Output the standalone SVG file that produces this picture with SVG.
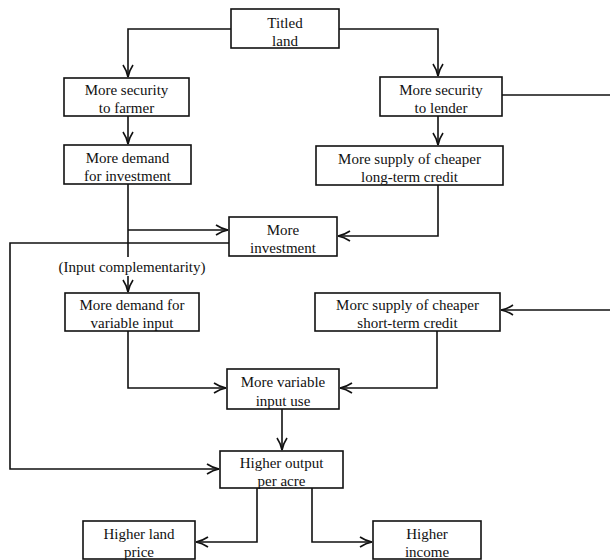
<svg xmlns="http://www.w3.org/2000/svg" width="610" height="560" viewBox="0 0 610 560">
<style>
.box{fill:#fff;stroke:#111;stroke-width:1.6}
.t{font-family:"Liberation Serif","Times New Roman",serif;font-size:15px;fill:#111;text-anchor:middle}
.c{fill:none;stroke:#111;stroke-width:1.6}
</style>
<defs>
<marker id="a" markerUnits="userSpaceOnUse" markerWidth="16" markerHeight="14" viewBox="-13 -7 16 14" refX="0" refY="0" orient="auto">
<path d="M-12,-5 Q-6,-1 0,0 Q-6,1 -12,5" fill="none" stroke="#111" stroke-width="1.6"/>
</marker>
</defs>
<g id="connectors">
<path class="c" d="M231,29 H128 V77" marker-end="url(#a)"/>
<path class="c" d="M339,29 H438 V76" marker-end="url(#a)"/>
<path class="c" d="M502,95 H610"/>
<path class="c" d="M128,116 V144" marker-end="url(#a)"/>
<path class="c" d="M438,116 V145" marker-end="url(#a)"/>
<path class="c" d="M128,184 V257"/>
<path class="c" d="M128,230 H228" marker-end="url(#a)"/>
<path class="c" d="M438,185 V236 H338" marker-end="url(#a)"/>
<path class="c" d="M229,243 H10 V469 H219" marker-end="url(#a)"/>
<path class="c" d="M128,276 V292" marker-end="url(#a)"/>
<path class="c" d="M610,310 H501" marker-end="url(#a)"/>
<path class="c" d="M128,331 V388 H226" marker-end="url(#a)"/>
<path class="c" d="M437,331 V388 H340" marker-end="url(#a)"/>
<path class="c" d="M282,409 V450" marker-end="url(#a)"/>
<path class="c" d="M257,488 V542 H196" marker-end="url(#a)"/>
<path class="c" d="M312,488 V542 H372" marker-end="url(#a)"/>
</g>
<g id="titled">
<rect class="box" x="231" y="9" width="108" height="39"/>
<text class="t" x="285" y="28">Titled</text>
<text class="t" x="285" y="46">land</text>
</g>
<g id="sec-farmer">
<rect class="box" x="64" y="78" width="125" height="38"/>
<text class="t" x="126.5" y="95">More security</text>
<text class="t" x="126.5" y="113">to farmer</text>
</g>
<g id="sec-lender">
<rect class="box" x="380" y="77" width="122" height="39"/>
<text class="t" x="441" y="95">More security</text>
<text class="t" x="441" y="113">to lender</text>
</g>
<g id="demand-inv">
<rect class="box" x="64" y="145" width="127" height="39"/>
<text class="t" x="127.5" y="163">More demand</text>
<text class="t" x="127.5" y="181">for investment</text>
</g>
<g id="long-credit">
<rect class="box" x="316" y="146" width="187" height="39"/>
<text class="t" x="409.5" y="164">More supply of cheaper</text>
<text class="t" x="409.5" y="182">long-term credit</text>
</g>
<g id="more-inv">
<rect class="box" x="229" y="217" width="108" height="39"/>
<text class="t" x="283" y="235">More</text>
<text class="t" x="283" y="253">investment</text>
</g>
<g id="label-comp">
<text class="t" x="132" y="272">(Input complementarity)</text>
</g>
<g id="demand-var">
<rect class="box" x="65" y="293" width="134" height="38"/>
<text class="t" x="132" y="310">More demand for</text>
<text class="t" x="132" y="328">variable input</text>
</g>
<g id="short-credit">
<rect class="box" x="315" y="293" width="185" height="38"/>
<text class="t" x="407.5" y="310">Morc supply of cheaper</text>
<text class="t" x="407.5" y="328">short-term credit</text>
</g>
<g id="var-use">
<rect class="box" x="227" y="369" width="112" height="40"/>
<text class="t" x="283" y="387">More variable</text>
<text class="t" x="283" y="406">input use</text>
</g>
<g id="output">
<rect class="box" x="220" y="451" width="123" height="37"/>
<text class="t" x="281.5" y="468">Higher output</text>
<text class="t" x="281.5" y="486">per acre</text>
</g>
<g id="land-price">
<rect class="box" x="83" y="521" width="112" height="38"/>
<text class="t" x="139" y="539">Higher land</text>
<text class="t" x="139" y="557">price</text>
</g>
<g id="income">
<rect class="box" x="373" y="521" width="108" height="38"/>
<text class="t" x="427" y="539">Higher</text>
<text class="t" x="427" y="557">income</text>
</g>
</svg>
